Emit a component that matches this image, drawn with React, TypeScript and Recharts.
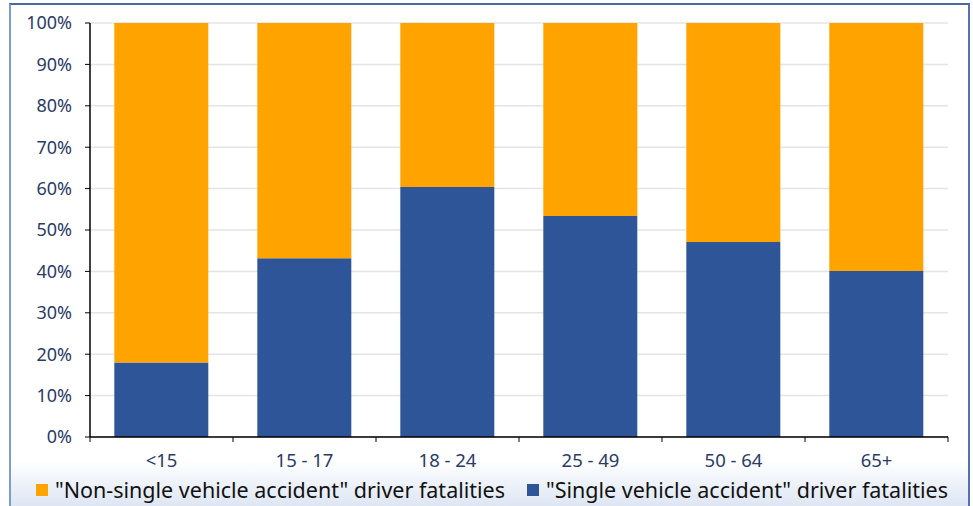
import React from 'react';
import { BarChart, Bar, XAxis, YAxis, CartesianGrid, Legend } from 'recharts';

const ageGroups = ['<15', '15 - 17', '18 - 24', '25 - 49', '50 - 64', '65+'];
const singleVehicle = [18, 43.2, 60.4, 53.4, 47.1, 40.1];
const nonSingleVehicle = [82, 56.8, 39.6, 46.6, 52.9, 59.9];
const yTicks = [0, 10, 20, 30, 40, 50, 60, 70, 80, 90, 100];

const data = ageGroups.map((age, i) => ({
  age,
  single: singleVehicle[i],
  nonSingle: nonSingleVehicle[i],
}));

const W = 973;
const H = 506;
const PLOT_LEFT = 90;
const PLOT_RIGHT = 948;
const HALF_BAND = (PLOT_RIGHT - PLOT_LEFT) / ageGroups.length / 2;

const ORANGE = '#FFA300';
const BLUE = '#2E5597';
const AXIS_TEXT = '#2B3B66';
const FONT = '"Noto Sans", sans-serif';

const CategoryTick = (props: any) => {
  const { x, y, payload, index } = props;
  const last = index === ageGroups.length - 1;
  return (
    <g>
      <line x1={x - HALF_BAND} x2={x - HALF_BAND} y1={y - 8} y2={y - 3} stroke="#000" />
      {last && <line x1={x + HALF_BAND} x2={x + HALF_BAND} y1={y - 8} y2={y - 3} stroke="#000" />}
      <text x={x} y={y + 22} textAnchor="middle" fill={AXIS_TEXT} fontSize={18.5} fontFamily={FONT}>
        {payload.value}
      </text>
    </g>
  );
};

const LegendContent = () => (
  <div style={{ display: 'flex', alignItems: 'center', fontFamily: FONT, fontSize: 21.5, lineHeight: '27px', color: '#111', whiteSpace: 'nowrap' }}>
    <span style={{ display: 'inline-block', width: 12, height: 12, background: ORANGE, marginLeft: 36, marginRight: 7 }} />
    <span>"Non-single vehicle accident" driver fatalities</span>
    <span style={{ display: 'inline-block', width: 12, height: 12, background: BLUE, marginLeft: 22, marginRight: 7 }} />
    <span>"Single vehicle accident" driver fatalities</span>
  </div>
);

export default function App() {
  return (
    <div style={{ position: 'absolute', left: 0, top: 0, width: W, height: H, background: '#fff', overflow: 'hidden' }}>
      <div
        style={{
          position: 'absolute',
          left: 9,
          top: 3,
          width: 957,
          height: 520,
          borderLeft: '2px solid #7F9BCB',
          borderRight: '2px solid #5672AE',
          borderTop: '2px solid #4A68A8',
          background: 'linear-gradient(to bottom, #ffffff 0px, #ffffff 455px, #DCE5F3 503px)',
        }}
      />
      <div style={{ position: 'absolute', left: 0, top: 0 }}>
        <BarChart
          width={W}
          height={H}
          data={data}
          margin={{ top: 23, right: W - PLOT_RIGHT, bottom: 0, left: 0 }}
          barCategoryGap="17%"
        >
          <CartesianGrid vertical={false} stroke="#E4E4E4" strokeWidth={1.5} />
          <XAxis
            dataKey="age"
            axisLine={{ stroke: '#000', strokeWidth: 1.5 }}
            tickLine={false}
            tick={<CategoryTick />}
            interval={0}
            height={42}
          />
          <YAxis
            domain={[0, 100]}
            ticks={yTicks}
            tickFormatter={(v: number) => `${v}%`}
            width={PLOT_LEFT}
            axisLine={{ stroke: '#000', strokeWidth: 1.5 }}
            tickLine={{ stroke: '#000' }}
            tickSize={5}
            tickMargin={13}
            tick={{ fill: AXIS_TEXT, fontSize: 18, fontFamily: FONT }}
          />
          <Legend verticalAlign="bottom" content={<LegendContent />} wrapperStyle={{ left: 0, bottom: 3 }} />
          <Bar dataKey="single" stackId="a" fill={BLUE} isAnimationActive={false} />
          <Bar dataKey="nonSingle" stackId="a" fill={ORANGE} isAnimationActive={false} />
        </BarChart>
      </div>
    </div>
  );
}
